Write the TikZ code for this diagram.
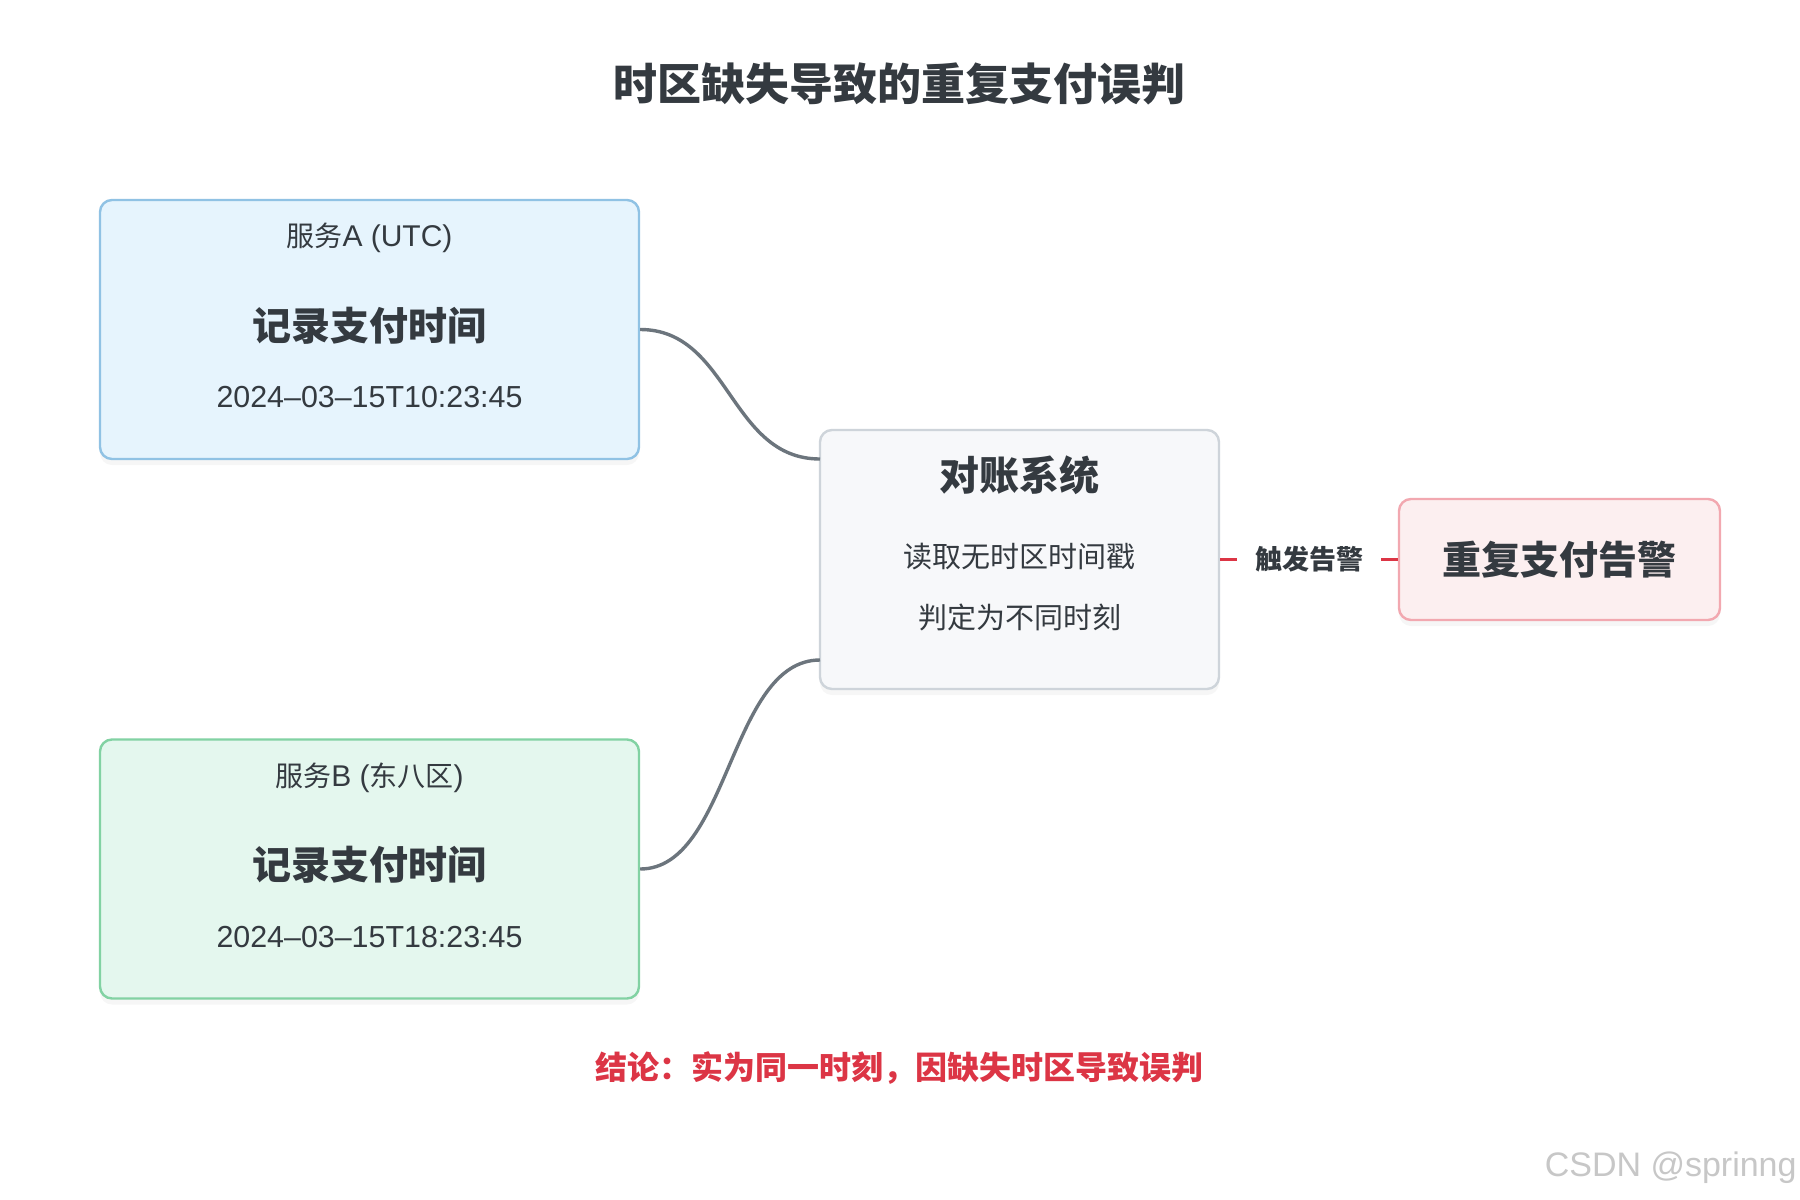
\documentclass[tikz,border=0pt]{standalone}
\usepackage{fontspec}
\setmainfont{Noto Sans CJK SC}
\newfontfamily\wmfont{Liberation Sans}
\newfontfamily\latfont{Liberation Sans}
\usetikzlibrary{shadows}
\definecolor{txt}{HTML}{343A40}
\definecolor{edgegray}{HTML}{6C757D}
\definecolor{redc}{HTML}{DC3545}
\definecolor{afill}{HTML}{E6F4FD}
\definecolor{adraw}{HTML}{90C2E4}
\definecolor{bfill}{HTML}{E4F7EE}
\definecolor{bdraw}{HTML}{82D2A3}
\definecolor{cfill}{HTML}{F7F8FA}
\definecolor{cdraw}{HTML}{CED4DA}
\definecolor{dfill}{HTML}{FCEFF0}
\definecolor{ddraw}{HTML}{F2A8B0}
\tikzset{
  boxbase/.style={rounded corners=6pt, line width=1.2pt, inner sep=0pt,
    drop shadow={opacity=0.07, shadow xshift=0pt, shadow yshift=-3pt}},
  svcbox/.style={boxbase, minimum width=269.5pt, minimum height=129.5pt},
  sub/.style={text=txt, font=\fontsize{14}{16}\selectfont},
  datestyle/.style={text=txt, font=\latfont\fontsize{15.2}{17}\selectfont},
  big/.style={text=txt, font=\fontsize{19.5}{22}\selectfont\bfseries},
  conn/.style={draw=edgegray, line width=1.7pt},
}
\begin{document}
\begin{tikzpicture}[x=0.5pt, y=-0.5pt]
\fill[white] (0,0) rectangle (1800,1200);
\useasboundingbox (0,0) rectangle (1800,1200);

\node[text=txt, font=\fontsize{22}{26}\selectfont\bfseries] (title) at (899,84) {时区缺失导致的重复支付误判};

% Service A
\node[svcbox, fill=afill, draw=adraw] (A) at (369.5,329.5) {};
\node[sub] (Asub) at (369.5,238) {服务{\latfont\fontsize{15}{16}\selectfont A (UTC)}};
\node[big] (Atitle) at (369.5,326) {记录支付时间};
\node[datestyle] (Adate) at (369.5,397) {2024–03–15T10:23:45};

% Service B
\node[svcbox, fill=bfill, draw=bdraw] (B) at (369.5,869) {};
\node[sub] (Bsub) at (369.5,778) {服务{\latfont\fontsize{15}{16}\selectfont B (}东八区{\latfont\fontsize{15}{16}\selectfont )}};
\node[big] (Btitle) at (369.5,865) {记录支付时间};
\node[datestyle] (Bdate) at (369.5,937) {2024–03–15T18:23:45};

% Reconciliation system
\node[boxbase, fill=cfill, draw=cdraw, minimum width=199.5pt, minimum height=129.5pt] (C) at (1019.5,559.5) {};
\node[big, font=\fontsize{20}{22}\selectfont\bfseries] (Ctitle) at (1019.5,475) {对账系统};
\node[sub, font=\fontsize{14.5}{16}\selectfont] (Cl1) at (1019.5,557) {读取无时区时间戳};
\node[sub, font=\fontsize{14.5}{16}\selectfont] (Cl2) at (1019.5,617) {判定为不同时刻};

% Alert
\node[boxbase, fill=dfill, draw=ddraw, minimum width=160.5pt, minimum height=60.5pt,
  big] (D) at (1559.5,559.5) {重复支付告警};

% connectors
\coordinate (cinA) at (820,459);
\coordinate (cinB) at (820,660);
\draw[conn] (A.east) .. controls (729.5,329.5) and (729.5,459) .. (cinA);
\draw[conn] (B.east) .. controls (729.5,869) and (729.5,660) .. (cinB);

\draw[draw=redc, line width=1.6pt] (C.east) -- (D.west)
  node[midway, fill=white, inner xsep=9pt, inner ysep=4pt, text=txt,
       font=\fontsize{13.5}{15}\selectfont\bfseries] (lbl) {触发告警};

\node[text=redc, font=\fontsize{16}{18}\selectfont\bfseries] (concl) at (899,1068) {结论：实为同一时刻，因缺失时区导致误判};

\node[anchor=east, text=black!22, font=\wmfont\fontsize{17}{19}\selectfont, inner sep=0pt] (wm) at (1797,1168) {CSDN @sprinng};
\end{tikzpicture}
\end{document}
